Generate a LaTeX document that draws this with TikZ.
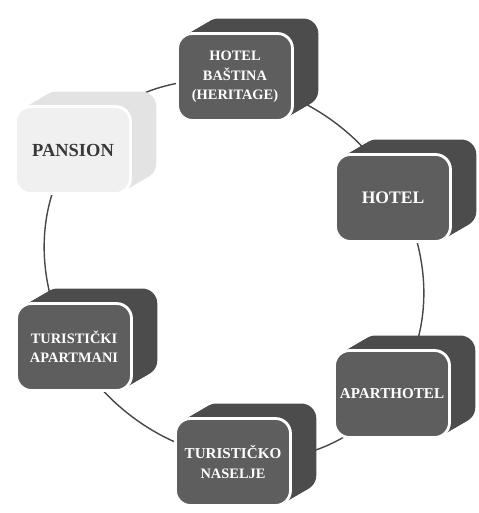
\documentclass[tikz,border=0pt]{standalone}
\usepackage{fontspec}
\setmainfont{Liberation Serif}
\tikzset{
  ring/.style={draw=black!72, line width=0.8pt},
  face/.style={rounded corners=0.3cm, minimum width=2.3cm, minimum height=1.74cm, inner sep=0pt, align=center},
  dark side/.style={face, fill=black!70},
  dark front/.style={face, fill=black!63, draw=white, line width=1.6pt, text=white,
    font=\bfseries\fontsize{8.2}{11}\selectfont},
  light side/.style={face, fill=black!11},
  light front/.style={face, fill=black!6, draw=white, line width=1.6pt, text=black!78,
    font=\bfseries\fontsize{10.5}{12}\selectfont},
}
\begin{document}
\begin{tikzpicture}[x=0.02cm,y=-0.02cm]
  \useasboundingbox (0,0) rectangle (478,513);

  % the cycle behind the boxes
  \draw[ring, rotate around={-45:(234,270)}] (234,270) ellipse [x radius=201, y radius=178];

  % boxes: extruded back, then the front face
  \foreach \name/\pos/\look/\txt in {
      pansion/{(73,150)}/light/PANSION,
      bastina/{(235,77)}/dark/{HOTEL\\BAŠTINA\\(HERITAGE)},
      hotel/{(393,198)}/dark/{\fontsize{10}{12}\selectfont HOTEL},
      apartmani/{(74,347)}/dark/{TURISTIČKI\\APARTMANI},
      aparthotel/{(392,394)}/dark/{\fontsize{8.6}{11}\selectfont APARTHOTEL},
      naselje/{(233,462)}/dark/{\fontsize{8.6}{12}\selectfont TURISTIČKO\\NASELJE}}
  {
    \foreach \s in {12,...,1}
      \node[\look\space side, xshift=\s*0.043cm, yshift=\s*0.025cm] at \pos {};
    \node[\look\space front] (\name) at \pos {\txt};
  }
\end{tikzpicture}
\end{document}
